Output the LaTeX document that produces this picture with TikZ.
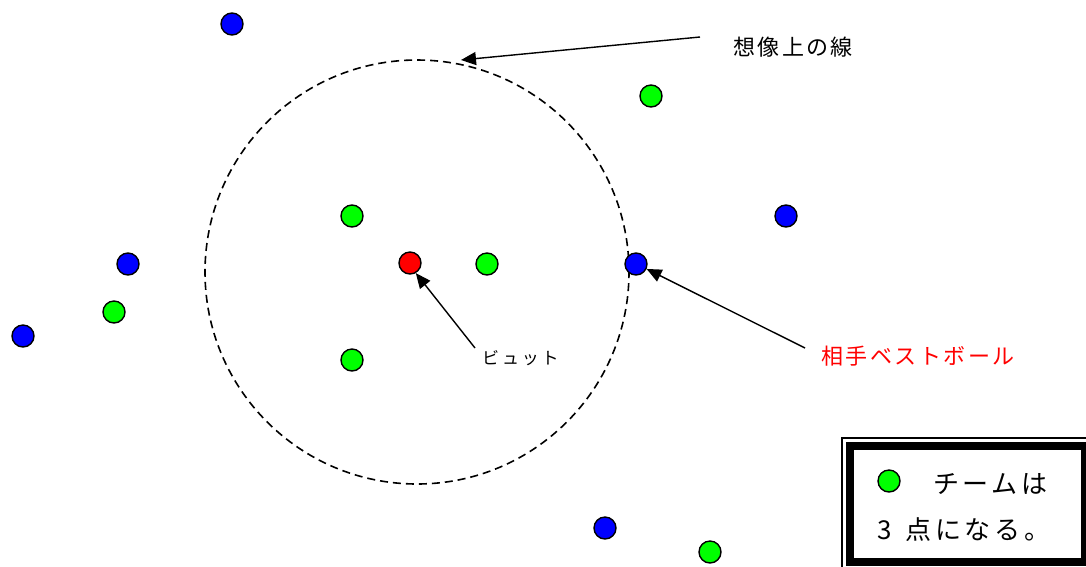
\documentclass[tikz,border=0pt]{standalone}
\usepackage{fontspec}
\newfontfamily\cjk{Noto Sans CJK JP}
\newfontfamily\cjksp{Noto Sans CJK JP}[LetterSpace=11]
\newfontfamily\cjkwide{Noto Sans CJK JP}[LetterSpace=14]
\usetikzlibrary{arrows.meta}
\definecolor{dotgreen}{RGB}{0,255,0}
\definecolor{dotblue}{RGB}{0,0,255}
\definecolor{dotred}{RGB}{255,0,0}
\tikzset{
  dot/.style={circle,draw=black,line width=1.4pt,minimum size=22pt,inner sep=0pt},
  gdot/.style={dot,fill=dotgreen},
  bdot/.style={dot,fill=dotblue},
  rdot/.style={dot,fill=dotred},
  pointer/.style={line width=1.4pt,-{Triangle[length=15pt,width=13pt]}},
  lbl/.style={font=\cjk\fontsize{20}{24}\selectfont,inner sep=0pt}
}
\begin{document}
\begin{tikzpicture}[x=1pt,y=-1pt]
\useasboundingbox (0,0) rectangle (1086,566);
\fill[white] (0,0) rectangle (1086,566);
% imaginary circle
\node[circle,draw,dashed,dash pattern=on 8pt off 5pt,line width=1.6pt,minimum size=424pt,inner sep=0pt] (ring) at (417,272) {};
% dots
\node[bdot] (b1) at (232,24) {};
\node[gdot] (g1) at (651,96) {};
\node[gdot] (g2) at (352,216) {};
\node[bdot] (b2) at (786,216) {};
\node[bdot] (b3) at (128,264) {};
\node[rdot] (red) at (410,263) {};
\node[gdot] (g3) at (487,264) {};
\node[bdot] (best) at (636,264) {};
\node[gdot] (g4) at (114,312) {};
\node[bdot] (b4) at (23,336) {};
\node[gdot] (g5) at (352,360) {};
\node[bdot] (b5) at (605,528) {};
\node[gdot] (g6) at (710,552) {};
% labels
\node[lbl,anchor=west,font=\cjksp\fontsize{22}{26}\selectfont] (tline) at (733,47) {想像上の線};
\node[lbl,anchor=west,font=\cjk\fontsize{17}{20}\selectfont] (tbut) at (482,358) {ビ\,ュ\,ッ\,ト};
\node[lbl,anchor=west,text=dotred,font=\cjksp\fontsize{22}{26}\selectfont] (tbest) at (821,356) {相手ベストボール};
% arrows
\coordinate (s1) at (700,37);
\coordinate (e1) at (461,60);
\draw[pointer] (s1) -- (e1);
\coordinate (s2) at (475,348);
\draw[pointer] (s2) -- (red.-60);
\coordinate (s3) at (805,348);
\draw[pointer] (s3) -- (best.-25);
% legend
\begin{scope}
\clip (0,0) rectangle (1086,566);
\draw[line width=1.2pt] (842,438) rectangle (1100,580);
\draw[line width=8pt] (850,445.5) rectangle (1085,562);
\node[gdot] (lg) at (889,481) {};
\node[lbl,anchor=west,font=\cjkwide\fontsize{26}{30}\selectfont] (lt1) at (933,484) {チームは};
\node[lbl,anchor=west,font=\cjkwide\fontsize{26}{30}\selectfont] (lt2) at (877,530) {3\kern14pt 点になる。};
\end{scope}
\end{tikzpicture}
\end{document}
